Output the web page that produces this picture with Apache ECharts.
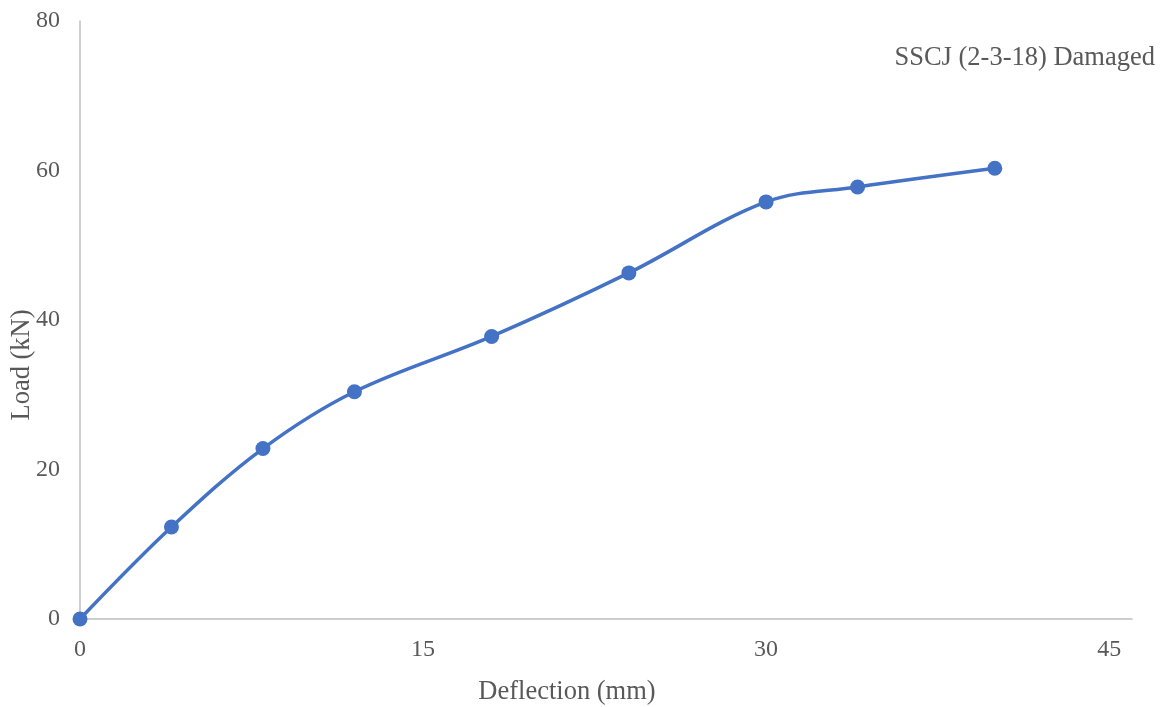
<!DOCTYPE html>
<html>
<head>
<meta charset="utf-8">
<script src="https://cdn.jsdelivr.net/npm/echarts@6/dist/echarts.min.js"></script>
<style>
  html, body { margin: 0; padding: 0; background: #fff; }
  #chart { width: 1160px; height: 707px; }
</style>
</head>
<body>
<div id="chart"></div>
<script>
// Load–deflection readings
const deflection = [0, 4, 8, 12, 18, 24, 30, 34, 40];
const load = [0, 12.3, 22.8, 30.4, 37.8, 46.3, 55.8, 57.8, 60.3];
const xTicks = [0, 15, 30, 45];
const yTicks = [0, 20, 40, 60, 80];

const seriesName = 'SSCJ (2-3-18) Damaged';
const xTitle = 'Deflection (mm)';
const yTitle = 'Load (kN)';

const points = deflection.map((d, i) => [d, load[i]]);
const font = '"Liberation Serif", "Times New Roman", serif';

const chart = echarts.init(document.getElementById('chart'));
chart.setOption({
  animation: false,
  grid: { left: 80, right: 28, top: 21, bottom: 88 },
  xAxis: {
    type: 'value',
    min: 0,
    max: 46,
    interval: 15,
    axisLine: { show: true, lineStyle: { color: '#bfbfbf', width: 1.5 } },
    axisTick: { show: false },
    splitLine: { show: false },
    axisLabel: {
      color: '#595959', fontFamily: font, fontSize: 24, margin: 19,
      formatter: v => xTicks.includes(v) ? String(v) : '',
      showMaxLabel: false
    }
  },
  yAxis: {
    type: 'value',
    min: 0,
    max: 80,
    interval: 20,
    axisLine: { show: true, lineStyle: { color: '#bfbfbf', width: 1.5 } },
    axisTick: { show: false },
    splitLine: { show: false },
    axisLabel: {
      color: '#595959', fontFamily: font, fontSize: 24, margin: 20,
      formatter: v => yTicks.includes(v) ? String(v) : ''
    }
  },
  series: [{
    name: seriesName,
    type: 'line',
    data: points,
    smooth: 0.35,
    symbol: 'circle',
    symbolSize: 15,
    lineStyle: { color: '#4472C4', width: 3.5 },
    itemStyle: { color: '#4472C4' }
  }],
  graphic: [
    {
      type: 'text', x: 1155, y: 58,
      style: { text: seriesName, fill: '#595959', font: '26.5px ' + font, textAlign: 'right', textVerticalAlign: 'middle' }
    },
    {
      type: 'text', x: 567, y: 692,
      style: { text: xTitle, fill: '#595959', font: '26.5px ' + font, textAlign: 'center', textVerticalAlign: 'middle' }
    },
    {
      type: 'text', x: 22, y: 365, rotation: Math.PI / 2,
      style: { text: yTitle, fill: '#595959', font: '26.5px ' + font, textAlign: 'center', textVerticalAlign: 'middle' }
    }
  ]
});
</script>
</body>
</html>
